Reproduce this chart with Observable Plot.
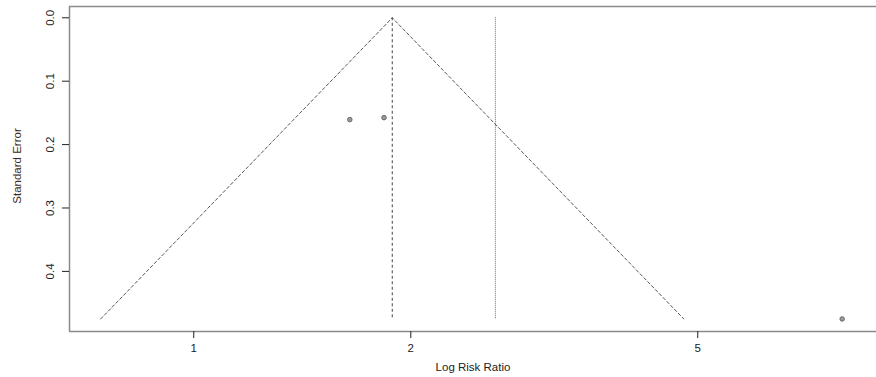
<!DOCTYPE html>
<html>
<head>
<meta charset="utf-8">
<script src="https://cdn.jsdelivr.net/npm/d3@7"></script>
<script src="https://cdn.jsdelivr.net/npm/@observablehq/plot@0.6"></script>
<style>
  html, body { margin: 0; padding: 0; background: #fff; overflow: hidden; }
  svg { display: block; }
</style>
</head>
<body>
<div id="chart"></div>
<script>
// Study effects (risk ratio, plotted on log axis) and standard errors
const studyRR = [1.646, 1.836, 7.93];
const studySE = [0.1606, 0.1575, 0.475];

// Pooled estimate (dashed centre line) and second reference line (dotted)
const pooledRR = 1.885;
const refRR = 2.62;
const maxSE = 0.475;

// Axis ticks
const xTicks = [1, 2, 5];
const yTicks = [0, 0.1, 0.2, 0.3, 0.4];
const xLabel = "Log Risk Ratio";
const yLabel = "Standard Error";

const points = studyRR.map((rr, i) => ({rr, se: studySE[i]}));
const funnel = [
  {rr: pooledRR * Math.exp(-1.96 * maxSE), se: maxSE},
  {rr: pooledRR, se: 0},
  {rr: pooledRR * Math.exp(1.96 * maxSE), se: maxSE}
];

const xDomain = [0.6725, 8.849];
const yDomain = [-0.0178, 0.4948];

const font = "'Liberation Sans', Arial, sans-serif";
const fs = 11.5;
const chart = Plot.plot({
  width: 876,
  height: 377,
  marginLeft: 69,
  marginRight: 0,
  marginTop: 6,
  marginBottom: 46,
  style: {fontFamily: font, fontSize: fs + "px", color: "#222", background: "#fff"},
  x: {type: "log", domain: xDomain},
  y: {domain: yDomain, reverse: true},
  marks: [
    // box (top, bottom, left)
    Plot.ruleY([yDomain[0], yDomain[1]], {stroke: "#8a8a8a", strokeWidth: 1.5}),
    Plot.ruleX([xDomain[0]], {stroke: "#8a8a8a", strokeWidth: 1.5}),
    // funnel
    Plot.line(funnel, {x: "rr", y: "se", stroke: "#444", strokeWidth: 0.9, strokeDasharray: "3,2.5"}),
    Plot.ruleX([pooledRR], {y1: 0, y2: maxSE, stroke: "#444", strokeWidth: 1, strokeDasharray: "3,2.5"}),
    Plot.ruleX([refRR], {y1: 0, y2: maxSE, stroke: "#555", strokeWidth: 0.9, strokeDasharray: "1,1"}),
    // studies
    Plot.dot(points, {x: "rr", y: "se", r: 2.3, fill: "#9a9a9a", stroke: "#555", strokeWidth: 0.8}),
    // axes
    Plot.axisX({ticks: xTicks, tickFormat: d => String(d), tickSize: 7, tickPadding: 5, label: null, stroke: "#222", fill: "#222", fontSize: fs}),
    Plot.axisY({ticks: yTicks, tickFormat: d => d.toFixed(1), tickSize: 7, tickPadding: 9, tickRotate: -90, label: null, stroke: "#222", fill: "#222", fontSize: fs}),
    Plot.text([xLabel], {frameAnchor: "bottom", dy: 39, fill: "#222", fontSize: fs}),
    Plot.text([yLabel], {frameAnchor: "left", textAnchor: "middle", dx: -52, dy: -3, rotate: -90, fill: "#3a2a22", fontSize: fs})
  ]
});
document.getElementById("chart").appendChild(chart);
</script>
</body>
</html>
